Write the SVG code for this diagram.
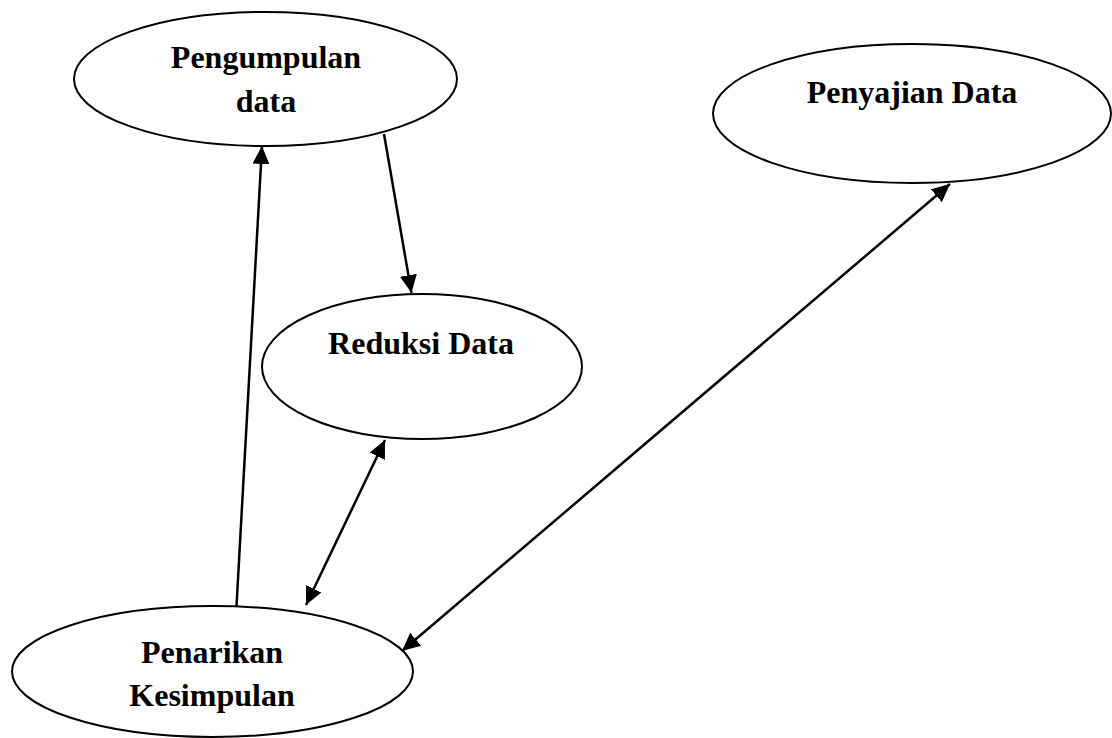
<svg xmlns="http://www.w3.org/2000/svg" width="1112" height="738" viewBox="0 0 1112 738">
<style>
.node ellipse{fill:#fff;stroke:#000;stroke-width:2}
.node text{font-family:"Liberation Serif","Times New Roman",serif;font-weight:bold;font-size:32px;fill:#000;text-anchor:middle}
.edge{stroke:#000;stroke-width:2.5;fill:none}
</style>
<defs>
<marker id="ah" markerUnits="userSpaceOnUse" markerWidth="20" markerHeight="18" refX="18" refY="8.5" orient="auto-start-reverse" viewBox="0 0 20 18">
<path d="M0,0 L18,8.5 L0,17 Z" fill="#000"/>
</marker>
</defs>
<rect width="1112" height="738" fill="#fff"/>
<g id="n1" class="node">
<ellipse cx="265.5" cy="79" rx="191.5" ry="67"/>
<text x="266" y="68">Pengumpulan</text>
<text x="266" y="112">data</text>
</g>
<g id="n2" class="node">
<ellipse cx="912" cy="113.5" rx="199" ry="69.5"/>
<text x="912" y="103">Penyajian Data</text>
</g>
<g id="n3" class="node">
<ellipse cx="422" cy="366.5" rx="160" ry="72.5"/>
<text x="421" y="354">Reduksi Data</text>
</g>
<g id="n4" class="node">
<ellipse cx="212.5" cy="671.5" rx="200.5" ry="65.5"/>
<text x="212" y="663">Penarikan</text>
<text x="212" y="706">Kesimpulan</text>
</g>
<g id="edges">
<line class="edge" x1="236.5" y1="606" x2="262" y2="146" marker-end="url(#ah)"/>
<line class="edge" x1="384" y1="134" x2="411.5" y2="293" marker-end="url(#ah)"/>
<line class="edge" x1="385" y1="440" x2="306" y2="605" marker-start="url(#ah)" marker-end="url(#ah)"/>
<line class="edge" x1="950" y1="184" x2="402" y2="651" marker-start="url(#ah)" marker-end="url(#ah)"/>
</g>
</svg>
